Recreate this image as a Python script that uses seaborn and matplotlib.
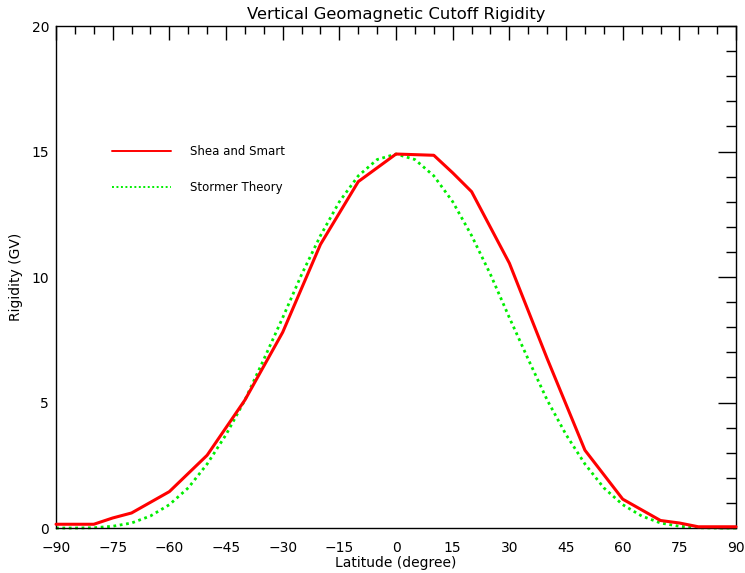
import numpy as np
import pandas as pd
import matplotlib
matplotlib.use("Agg")
import matplotlib.pyplot as plt
from matplotlib.ticker import MultipleLocator
import seaborn as sns

# Shea and Smart cutoff rigidity (GV)
shea_lat = [-90, -80, -75, -70, -60, -50, -40, -30, -20, -10, 0, 10, 15, 20, 30, 40, 50, 60, 70, 75, 80, 90]
shea_rig = [0.15, 0.15, 0.4, 0.6, 1.45, 2.9, 5.1, 7.8, 11.3, 13.8, 14.9, 14.85, 14.15, 13.4, 10.55, 6.75, 3.1, 1.15, 0.3, 0.2, 0.05, 0.05]

# Stormer theory curve, read at 5 degree steps
stormer_lat = [-90, -85, -80, -75, -70, -65, -60, -55, -50, -45, -40, -35, -30, -25, -20, -15, -10, -5,
               0, 5, 10, 15, 20, 25, 30, 35, 40, 45, 50, 55, 60, 65, 70, 75, 80, 85, 90]
stormer_rig = [0.0, 0.0, 0.01, 0.07, 0.2, 0.48, 0.93, 1.6, 2.55, 3.72, 5.1, 6.72, 8.38, 10.1, 11.65, 13.0, 14.03, 14.68,
               14.9, 14.68, 14.03, 13.0, 11.65, 10.1, 8.38, 6.72, 5.1, 3.72, 2.55, 1.6, 0.93, 0.48, 0.2, 0.07, 0.01, 0.0, 0.0]

x_ticks = list(range(-90, 91, 15))

shea = pd.DataFrame({"lat": shea_lat, "rig": shea_rig})
stormer = pd.DataFrame({"lat": stormer_lat, "rig": stormer_rig})

sns.set_style("white")
plt.rcParams["font.family"] = ["DejaVu Sans"]
plt.rcParams["text.color"] = "black"
plt.rcParams["xtick.color"] = "black"
plt.rcParams["ytick.color"] = "black"
plt.rcParams["axes.labelcolor"] = "black"

fig = plt.figure(figsize=(7.45, 5.73), dpi=100)
ax = fig.add_axes([0.0752, 0.0785, 0.9128, 0.8761])

sns.lineplot(data=shea, x="lat", y="rig", color="#ff0000", linewidth=2.2,
             label="Shea and Smart", ax=ax, clip_on=False, zorder=3)
sns.lineplot(data=stormer, x="lat", y="rig", color="#00ee00", linewidth=2.0,
             linestyle=(0, (1, 1.3)), label="Stormer Theory", ax=ax, clip_on=False, zorder=2)

ax.set_xlim(-90, 90)
ax.set_ylim(0, 20)
ax.set_xticks(x_ticks)
ax.set_xticklabels([str(v).replace("-", "\u2212") for v in x_ticks])
ax.xaxis.set_minor_locator(MultipleLocator(5))
ax.yaxis.set_major_locator(MultipleLocator(5))
ax.yaxis.set_minor_locator(MultipleLocator(1))

ax.tick_params(which="both", direction="in", top=True, right=True, labelsize=10, width=1)
ax.tick_params(which="major", axis="x", length=10, pad=9)
ax.tick_params(which="minor", axis="x", length=6)
ax.tick_params(which="major", axis="y", length=13, pad=5)
ax.tick_params(which="minor", axis="y", length=7)
for s in ax.spines.values():
    s.set_color("black")
    s.set_linewidth(1)

ax.set_title("Vertical Geomagnetic Cutoff Rigidity", fontsize=11.8, pad=5)
ax.set_xlabel("Latitude (degree)", fontsize=10, labelpad=1)
ax.set_ylabel("Rigidity (GV)", fontsize=10, labelpad=6)

leg = ax.legend(loc="upper left", bbox_to_anchor=(0.082, 0.762), frameon=False, fontsize=8.5,
                handlelength=5.0, handletextpad=1.6, labelspacing=1.9, borderpad=0, borderaxespad=0)
for h in leg.get_lines():
    h.set_linewidth(1.4)

fig.savefig("out.png", dpi=100)
